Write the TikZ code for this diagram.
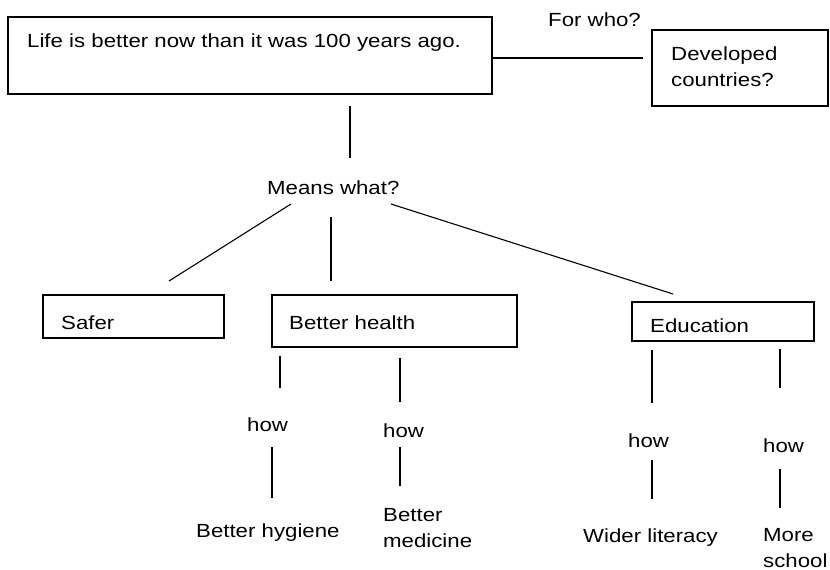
\documentclass[tikz,border=0pt]{standalone}
\usepackage{fontspec}
\setmainfont{Liberation Sans}[FakeStretch=1.17]
\begin{document}
\begin{tikzpicture}[x=1pt,y=-1pt,
  box/.style={draw,line width=1.1pt},
  txt/.style={inner sep=0pt,anchor=base west,align=left,
    font=\fontsize{19}{26}\selectfont},
  link/.style={line width=1.1pt}]
\useasboundingbox[fill=white] (0,0) rectangle (830,570);

% boxes
\draw[box] (8,17) rectangle (492,94);
\draw[box] (652,30) rectangle (828,106);
\draw[box] (43,295) rectangle (224,338);
\draw[box] (272,295) rectangle (517,347);
\draw[box] (632,302) rectangle (814,341);

% texts (two-line texts are anchored at the baseline of their last line)
\node[txt] (claim) at (27,47) {Life is better now than it was 100 years ago.};
\node[txt] (forwho) at (548,27) {For who?};
\node[txt] (dev) at (671,86) {Developed\\countries?};
\node[txt] (means) at (267,194) {Means what?};
\node[txt] (safer) at (61,329) {Safer};
\node[txt] (health) at (289,329) {Better health};
\node[txt] (edu) at (650,332) {Education};
\node[txt] (howA) at (247,431) {how};
\node[txt] (howB) at (383,437) {how};
\node[txt] (howC) at (628,447) {how};
\node[txt] (howD) at (763,452) {how};
\node[txt] (hyg) at (196,537) {Better hygiene};
\node[txt] (med) at (383,547) {Better\\medicine};
\node[txt] (lit) at (583,542) {Wider literacy};
\node[txt] (school) at (763,567) {More\\school};

% connector ends
\coordinate (c1a) at (492,58);  \coordinate (c1b) at (643,58);
\coordinate (c2a) at (350,106); \coordinate (c2b) at (350,158);
\coordinate (c3a) at (291,204); \coordinate (c3b) at (169,281);
\coordinate (c4a) at (331,217); \coordinate (c4b) at (331,281);
\coordinate (c5a) at (391,204); \coordinate (c5b) at (673,294);
\coordinate (c6a) at (280,356); \coordinate (c6b) at (280,388);
\coordinate (c7a) at (272,447); \coordinate (c7b) at (272,498);
\coordinate (c8a) at (400,358); \coordinate (c8b) at (400,402);
\coordinate (c9a) at (400,447); \coordinate (c9b) at (400,486);
\coordinate (d1a) at (652,350); \coordinate (d1b) at (652,403);
\coordinate (d2a) at (652,460); \coordinate (d2b) at (652,499);
\coordinate (d3a) at (780,349); \coordinate (d3b) at (780,388);
\coordinate (d4a) at (780,469); \coordinate (d4b) at (780,508);

\foreach \p in {c1,c2,c3,c4,c5,c6,c7,c8,c9,d1,d2,d3,d4}
  \draw[link] (\p a) -- (\p b);
\end{tikzpicture}
\end{document}
